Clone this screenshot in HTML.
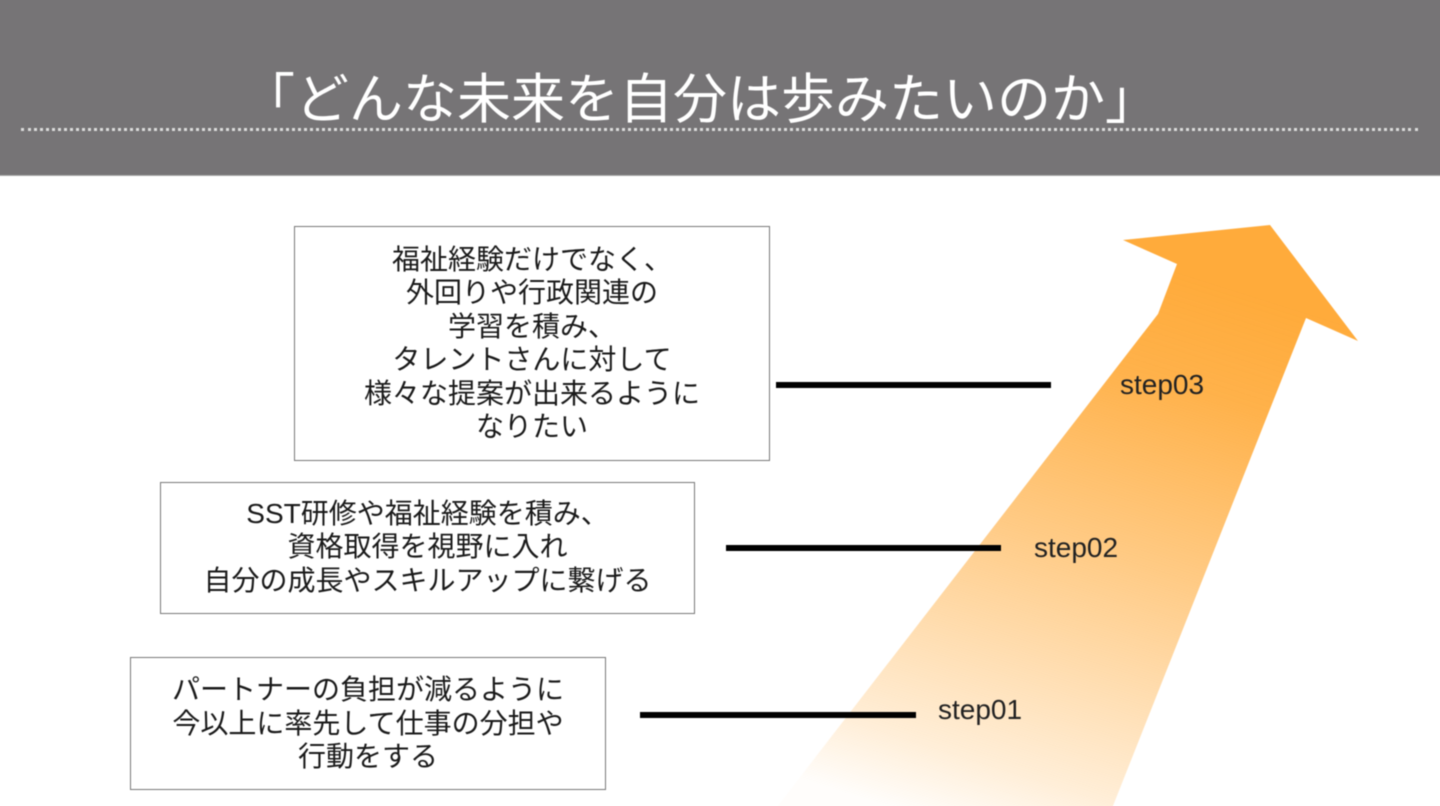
<!DOCTYPE html>
<html lang="ja"><head><meta charset="utf-8"><style>
html,body{margin:0;padding:0;background:#fff}
#s{position:relative;width:1440px;height:806px;overflow:hidden;background:#fff;font-family:"Liberation Sans","Noto Sans CJK JP",sans-serif;color:#1a1a1a}
#i{position:absolute;left:0;top:0;width:1440px;height:806px;filter:blur(0.5px)}
.hd{position:absolute;left:-10px;top:-10px;width:1460px;height:185px;background:#767476;border-bottom:1px solid #aaa}
.title{position:absolute;left:-20px;top:64px;width:1440px;text-align:center;color:#fff;font-size:54px;line-height:72px;font-weight:400;white-space:nowrap}
.dot{position:absolute;left:21px;top:128px;width:1397px;border-top:3px dotted #dcdcdc}
.b{position:absolute;box-sizing:border-box;border:1.5px solid #777;background:#fff;text-align:center;font-size:28px;line-height:33.5px;white-space:nowrap}
.l{position:absolute;height:6px;background:#000}
.t{position:absolute;font-size:28px;line-height:30px;color:#222;white-space:nowrap}
svg{position:absolute;left:0;top:0;overflow:visible}
</style></head><body><div id="s"><div id="i">
<div class="hd"></div>
<div class="title">「どんな未来を自分は歩みたいのか」</div>
<div class="dot"></div>
<svg width="1440" height="806"><defs><linearGradient id="g" gradientUnits="userSpaceOnUse" x1="950" y1="826" x2="1130" y2="256"><stop offset="0" stop-color="#ffab3b" stop-opacity="0.02"/><stop offset="0.12" stop-color="#ffab3b" stop-opacity="0.2"/><stop offset="0.51" stop-color="#ffab3b" stop-opacity="0.62"/><stop offset="0.82" stop-color="#ffab3b" stop-opacity="0.92"/><stop offset="1" stop-color="#ffab3b"/></linearGradient></defs>
<polygon points="1270,225 1358,341 1306,318 1109,816 770,816 1158,314 1177,264 1123,240" fill="url(#g)"/></svg>
<div class="b" style="left:294px;top:226px;width:476px;height:235px;padding-top:15.5px">福祉経験だけでなく、<br>外回りや行政関連の<br>学習を積み、<br>タレントさんに対して<br>様々な提案が出来るように<br>なりたい</div>
<div class="b" style="left:160px;top:482px;width:535px;height:132px;padding-top:13.5px">SST研修や福祉経験を積み、<br>資格取得を視野に入れ<br>自分の成長やスキルアップに繋げる</div>
<div class="b" style="left:130px;top:657px;width:476px;height:133px;padding-top:15px">パートナーの負担が減るように<br>今以上に率先して仕事の分担や<br>行動をする</div>
<div class="l" style="left:776px;top:382px;width:275px"></div>
<div class="l" style="left:726px;top:545px;width:275px"></div>
<div class="l" style="left:640px;top:712px;width:276px"></div>
<div class="t" style="left:1120px;top:370px">step03</div>
<div class="t" style="left:1034px;top:533px">step02</div>
<div class="t" style="left:938px;top:695px">step01</div>
</div></div></body></html>
